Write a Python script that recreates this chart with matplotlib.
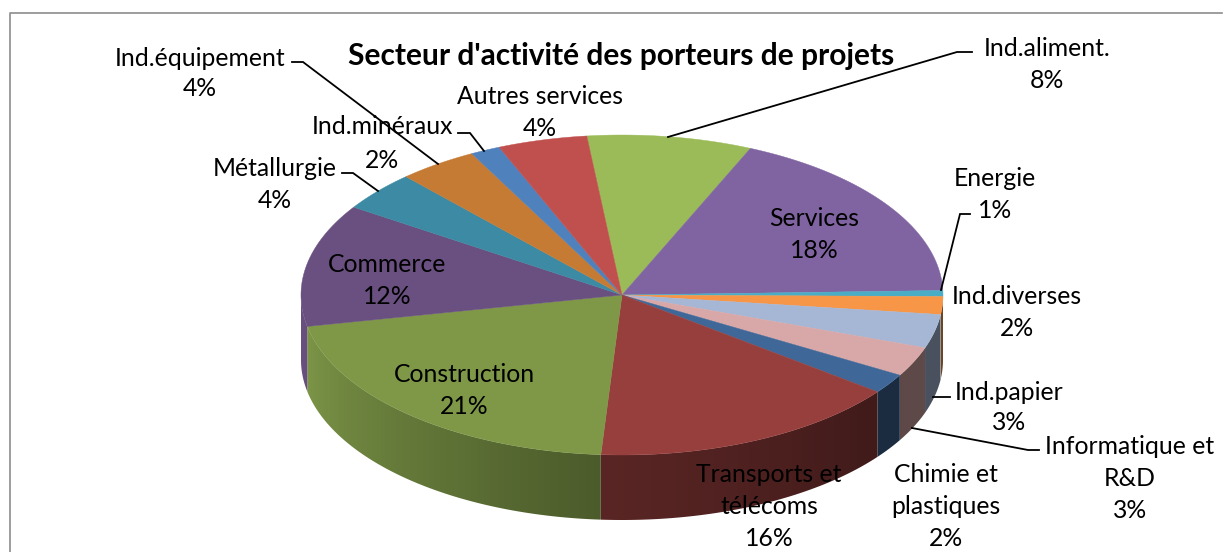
import numpy as np
import matplotlib
matplotlib.use('Agg')
import matplotlib.pyplot as plt
from matplotlib.colors import to_rgb
from matplotlib.patches import Polygon

plt.rcParams['font.family'] = ['Lato', 'DejaVu Sans']

title = "Secteur d'activité des porteurs de projets"

# clockwise, starting from Ind.aliment.
sectors = ['Ind.aliment.', 'Services', 'Energie', 'Ind.diverses', 'Ind.papier',
           'Informatique et R&D', 'Chimie et plastiques', 'Transports et télécoms',
           'Construction', 'Commerce', 'Métallurgie', 'Ind.équipement',
           'Ind.minéraux', 'Autres services']
shares = [8.3, 18.0, 0.6, 1.8, 3.4, 3.0, 2.0, 15.7, 20.8, 12.4, 4.0, 4.0, 1.5, 4.5]
colors = ['#9BBB59', '#8064A2', '#4BACC6', '#F79646', '#A6B7D6', '#D8A7A7', '#3F6797',
          '#963F3D', '#7E9848', '#695080', '#3C8AA3', '#C67B35', '#4F81BD', '#C0504D']

# label layout: text lines, centre x of each line, y of each line (last one is the percent)
label_pos = {
    'Ind.aliment.': (['Ind.aliment.'], [1047], [46, 78]),
    'Services': (['Services'], [814], [217, 249]),
    'Energie': (['Energie'], [995], [177, 208]),
    'Ind.diverses': (['Ind.diverses'], [1017], [294, 326]),
    'Ind.papier': (['Ind.papier'], [1009], [390, 421]),
    'Informatique et R&D': (['Informatique et', 'R&D'], [1130, 1130], [444, 476, 508]),
    'Chimie et plastiques': (['Chimie et', 'plastiques'], [946, 946], [472, 505, 537]),
    'Transports et télécoms': (['Transports et', 'télécoms'], [769, 769], [472, 505, 537]),
    'Construction': (['Construction'], [464], [372, 404]),
    'Commerce': (['Commerce'], [387], [262, 295]),
    'Métallurgie': (['Métallurgie'], [275], [166, 198]),
    'Ind.équipement': (['Ind.équipement'], [200], [57, 87]),
    'Ind.minéraux': (['Ind.minéraux'], [382], [125, 158]),
    'Autres services': (['Autres services'], [540], [95, 127]),
}

leaders = [
    ([972, 957, 668], [52, 52, 137]),
    ([970, 960, 941], [214, 214, 290]),
    ([950, 933], [397, 397]),
    ([1039, 1028, 912], [450, 450, 428]),
    ([292, 303, 438], [62, 62, 164]),
    ([458, 470, 484], [133, 133, 151]),
    ([342, 353, 378], [173, 173, 191]),
]

cx, cy = 622, 295
rx, ry = 321, 160
depth = 65
start = -6.3
text_dy = 2


def ellipse(theta):
    t = np.radians(theta)
    return cx + rx * np.sin(t), cy - ry * np.cos(t)


def side_shade(theta):
    return np.interp(theta, [90, 130, 150, 184, 258, 270], [.45, .43, .5, .6, .98, 1.0])


fig = plt.figure(figsize=(12.23, 5.52), dpi=100)
ax = fig.add_axes([0, 0, 1, 1])

# chart frame
ax.plot([9.5, 9.5, 1222], [552, 12.5, 12.5], color='#8C8C8C', lw=1.2)

edges = start + np.cumsum([0] + shares) * 3.6

# side wall first, then the top face
for i in range(len(shares)):
    a0, a1 = max(edges[i], 90), min(edges[i + 1], 270)
    if a1 <= a0:
        continue
    th = np.linspace(a0, a1, 200)
    x, y = ellipse(th)
    # horizontal gradient, colour only depends on the position along the wall
    xg, sh = x[::-1], side_shade(th)[::-1]
    xi = np.linspace(xg.min(), xg.max(), max(int(xg.max() - xg.min()) + 2, 2))
    rgb = np.array(to_rgb(colors[i]))[None, None, :] * np.interp(xi, xg, sh)[None, :, None]
    wall = Polygon(np.c_[np.r_[x, x[::-1]], np.r_[y, y[::-1] + depth]],
                   facecolor=colors[i], edgecolor='none', alpha=0)
    ax.add_patch(wall)
    im = ax.imshow(rgb, extent=(xg.min(), xg.max(), y.max() + depth, y.min()),
                   aspect='auto', interpolation='bilinear', zorder=1.5)
    im.set_clip_path(wall)

ax.set_xlim(0, 1223)
ax.set_ylim(552, 0)
ax.axis('off')

for i in range(len(shares)):
    th = np.linspace(edges[i], edges[i + 1], 80)
    x, y = ellipse(th)
    ax.fill(np.r_[cx, x], np.r_[cy, y], color=colors[i], lw=0.3, zorder=2)

for xs, ys in leaders:
    ax.plot(xs, ys, color='black', lw=1.3, solid_joinstyle='miter', zorder=3)

ax.text(621, 54 + text_dy, title, fontsize=21.5, fontweight='bold', ha='center', va='center',
        color='black', zorder=4)

for name, val in zip(sectors, shares):
    lines, xs, ys = label_pos[name]
    for line, x, y in zip(lines, xs, ys):
        ax.text(x, y + text_dy, line, fontsize=17.8, ha='center', va='center', color='black', zorder=4)
    ax.text(xs[-1], ys[-1] + text_dy, '%d%%' % round(val), fontsize=17.8, ha='center', va='center',
            color='black', zorder=4)

fig.savefig('out.png', dpi=100)
